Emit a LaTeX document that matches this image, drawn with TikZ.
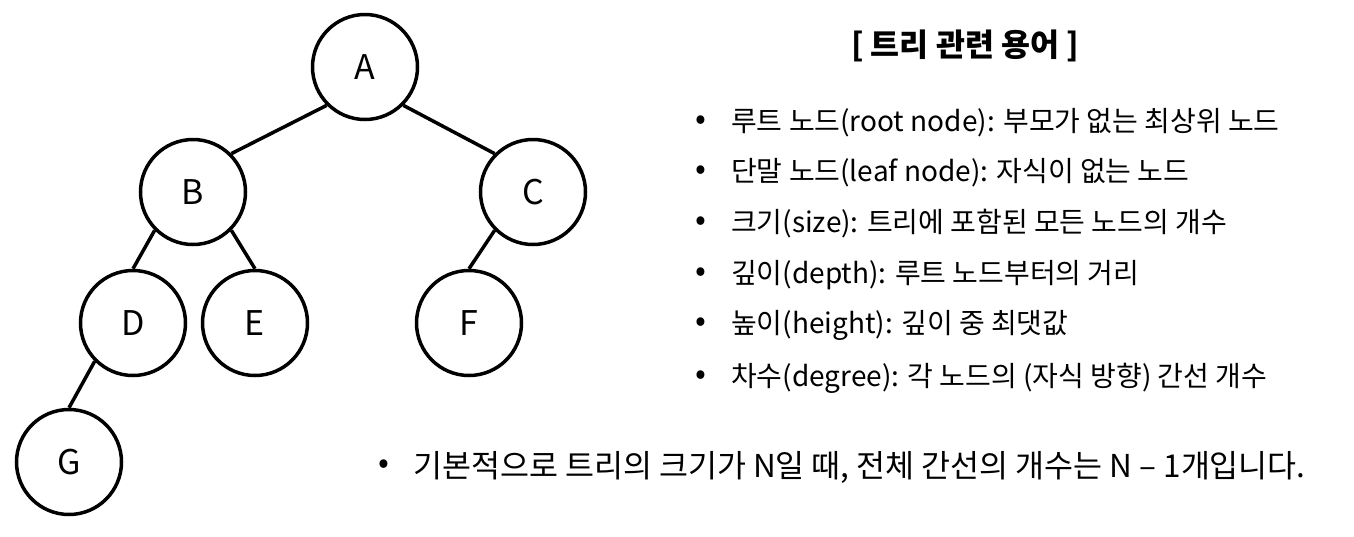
\documentclass[tikz,border=0pt]{standalone}
\usepackage{fontspec}
\setmainfont{Noto Sans CJK KR}
\begin{document}
\begin{tikzpicture}[x=1pt,y=-1pt,
  tnode/.style={circle,draw=black,line width=3.5pt,minimum size=105pt,inner sep=0pt,font=\fontsize{34}{40}\selectfont},
  edge/.style={line width=3.5pt},
  bul/.style={anchor=center,font=\fontsize{32}{36}\selectfont,inner sep=0pt},
  term/.style={anchor=west,font=\fontsize{28}{32}\selectfont,inner sep=0pt}]
\useasboundingbox[fill=white] (0,0) rectangle (1354,536);
\node[tnode] (A) at (365,67) {A};
\node[tnode] (B) at (193,192) {B};
\node[tnode] (C) at (533,192) {C};
\node[tnode] (D) at (133,323) {D};
\node[tnode] (E) at (255,323) {E};
\node[tnode] (F) at (469,323) {F};
\node[tnode] (G) at (69,462) {G};
\draw[edge] (A.225) -- (B.45);
\draw[edge] (A.315) -- (C.135);
\draw[edge] (B.225) -- (D.north);
\draw[edge] (B.315) -- (E.north);
\draw[edge] (C.225) -- (F.north);
\draw[edge] (D.225) -- (G.north);
\node[anchor=center,font=\fontsize{31.5}{36}\selectfont\bfseries,inner sep=0pt] (title) at (965,46) {[ 트리 관련 용어 ]};
\foreach \i/\y/\t in {1/123/{루트 노드(root node): 부모가 없는 최상위 노드},
                      2/173/{단말 노드(leaf node): 자식이 없는 노드},
                      3/224/{크기(size): 트리에 포함된 모든 노드의 개수},
                      4/275/{깊이(depth): 루트 노드부터의 거리},
                      5/325/{높이(height): 깊이 중 최댓값},
                      6/378/{차수(degree): 각 노드의 (자식 방향) 간선 개수}}{
  \node[bul] (b\i) at (701,\y) {•};
  \node[term] (t\i) at (731,\y) {\t};
}
\node[bul] (b7) at (384,467) {•};
\node[term,font=\fontsize{31.5}{36}\selectfont] (t7) at (413,467) {기본적으로 트리의 크기가 N일 때, 전체 간선의 개수는 N – 1개입니다.};
\end{tikzpicture}
\end{document}
